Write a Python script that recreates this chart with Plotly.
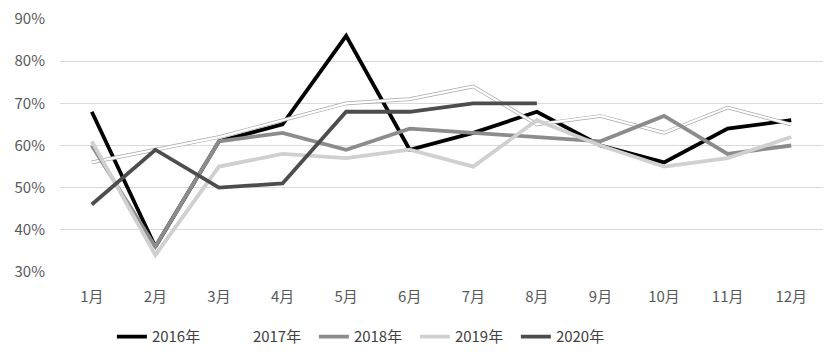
import plotly.graph_objects as go

months = ["1月", "2月", "3月", "4月", "5月", "6月", "7月", "8月", "9月", "10月", "11月", "12月"]
y2016 = [68, 36, 61, 65, 86, 59, 63, 68, 60, 56, 64, 66]
y2017 = [56, 59, 62, 66, 70, 71, 74, 65, 67, 63, 69, 65]
y2018 = [60, 36, 61, 63, 59, 64, 63, 62, 61, 67, 58, 60]
y2019 = [61, 34, 55, 58, 57, 59, 55, 66, 60, 55, 57, 62]
y2020 = [46, 59, 50, 51, 68, 68, 70, 70]

fig = go.Figure()
W = 3.8
fig.add_trace(go.Scatter(x=months, y=y2016, mode="lines", name="2016年",
                         line=dict(color="#000000", width=W)))
# 2017: white line with thin grey outline
fig.add_trace(go.Scatter(x=months, y=y2017, mode="lines", name="2017年", legendgroup="2017",
                         showlegend=False, line=dict(color="#a6a6a6", width=3.6)))
fig.add_trace(go.Scatter(x=months, y=y2017, mode="lines", name="2017年", legendgroup="2017",
                         line=dict(color="#ffffff", width=2.2)))
fig.add_trace(go.Scatter(x=months, y=y2018, mode="lines", name="2018年",
                         line=dict(color="#8c8c8c", width=W)))
fig.add_trace(go.Scatter(x=months, y=y2019, mode="lines", name="2019年",
                         line=dict(color="#d0d0d0", width=W)))
fig.add_trace(go.Scatter(x=months[:len(y2020)], y=y2020, mode="lines", name="2020年",
                         line=dict(color="#4d4d4d", width=W)))

font = dict(family="Noto Sans CJK SC, sans-serif", size=15, color="#595959")
fig.update_layout(
    width=830, height=354,
    margin=dict(l=60, r=7, t=17, b=82),
    paper_bgcolor="white", plot_bgcolor="white",
    font=font,
    showlegend=True,
    legend=dict(orientation="h", x=0.068, xanchor="left",
                yref="container", y=0.095, yanchor="top",
                font=dict(family="Noto Sans CJK SC, sans-serif", size=15, color="#404040"),
                entrywidth=56, entrywidthmode="pixels"),
    xaxis=dict(type="category", range=[-0.5, 11.5], showgrid=False, showline=False,
               zeroline=False, tickfont=font, ticks="", ticklabelstandoff=14),
    yaxis=dict(range=[30, 90], dtick=10, ticksuffix="%", showgrid=True,
               gridcolor="#d9d9d9", gridwidth=1, zeroline=False, showline=False,
               tickfont=font, ticks="", ticklabelstandoff=14),
)
fig.write_html("out.html")
